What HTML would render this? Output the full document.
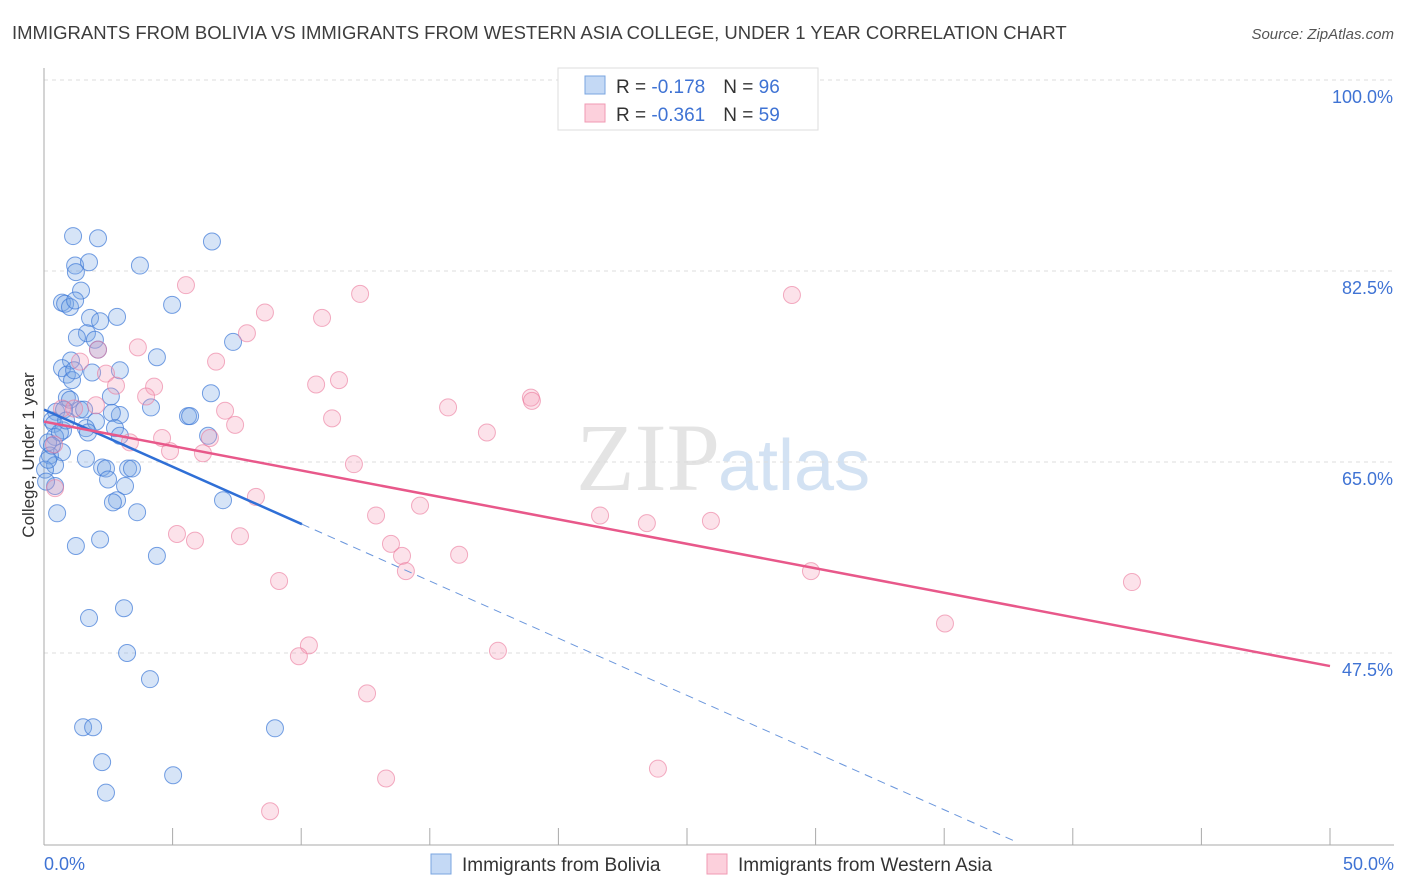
<!DOCTYPE html>
<html><head><meta charset="utf-8">
<style>
body{margin:0;background:#fff;font-family:"Liberation Sans",sans-serif;}
#wrap{position:relative;width:1406px;height:892px;overflow:hidden;}
</style></head>
<body>
<div id="wrap">
<svg id="svg" width="1406" height="892" xmlns="http://www.w3.org/2000/svg">
<text x="12" y="39" font-size="18.5" fill="#3d3d3d">IMMIGRANTS FROM BOLIVIA VS IMMIGRANTS FROM WESTERN ASIA COLLEGE, UNDER 1 YEAR CORRELATION CHART</text>
<text x="1394" y="39" font-size="15" font-style="italic" fill="#555" text-anchor="end">Source: ZipAtlas.com</text>
<text x="720" y="490" font-size="96" fill="#e4e4e4" text-anchor="end" font-family="Liberation Serif,serif">ZIP</text>
<text x="718" y="490" font-size="72" fill="#d3e2f3">atlas</text>
<text transform="translate(34,455) rotate(-90)" font-size="17" fill="#333" text-anchor="middle">College, Under 1 year</text>
<g id="grid"></g><g id="pts"></g><g id="lines"></g>
<g>
<rect x="558" y="68" width="260" height="62" fill="#fff" stroke="#ddd"/>
<rect x="585" y="76" width="20" height="18" fill="#c4d9f5" stroke="#7aa5e0"/>
<rect x="585" y="104" width="20" height="18" fill="#fcd0dc" stroke="#f09ab3"/>
<text x="616" y="93" font-size="19" fill="#333">R = <tspan fill="#3f73d4">-0.178</tspan><tspan dx="18">N = </tspan><tspan fill="#3f73d4">96</tspan></text>
<text x="616" y="121" font-size="19" fill="#333">R = <tspan fill="#3f73d4">-0.361</tspan><tspan dx="18">N = </tspan><tspan fill="#3f73d4">59</tspan></text>
</g>
<g>
<rect x="431" y="854" width="20" height="20" fill="#c4d9f5" stroke="#7aa5e0"/>
<text x="462" y="871" font-size="19" fill="#333">Immigrants from Bolivia</text>
<rect x="707" y="854" width="20" height="20" fill="#fcd0dc" stroke="#f09ab3"/>
<text x="738" y="871" font-size="19" fill="#333">Immigrants from Western Asia</text>
</g>
</svg>
</div>
<script>
const yTicks=[100,82.5,65,47.5];
const yTickLabels=["100.0%","82.5%","65.0%","47.5%"];
const xTickLabels=["0.0%","50.0%"];
const blueX=[1.13,2.10,6.53,1.21,1.75,3.73,1.24,1.44,0.70,0.82,1.01,1.21,4.98,2.84,1.79,2.18,1.67,1.28,1.98,2.10,7.35,4.39,1.05,0.70,2.95,1.87,0.89,1.09,6.49,2.60,0.89,1.01,4.16,0.47,1.40,1.56,0.78,2.95,2.64,5.60,5.68,0.31,2.02,2.76,0.39,0.74,1.63,1.71,2.95,6.38,0.43,0.16,0.70,0.23,1.63,2.26,2.41,0.43,3.27,3.42,2.49,0.43,3.15,2.84,2.68,6.96,3.62,0.51,1.24,2.18,4.39,3.11,1.75,3.23,4.12,1.52,1.91,8.98,2.26,5.02,2.41,0.04,0.08,0.16,0.62,0.31,0.86,1.17];
const blueY=[85.7,85.5,85.2,83.0,83.3,83.0,82.4,80.7,79.6,79.5,79.2,79.8,79.4,78.3,78.2,77.9,76.8,76.4,76.2,75.3,76.0,74.6,74.3,73.6,73.4,73.2,73.0,72.5,71.3,71.0,70.9,70.7,70.0,69.6,69.8,69.8,69.8,69.3,69.5,69.2,69.2,68.8,68.7,68.1,68.5,67.9,68.1,67.7,67.4,67.4,67.3,66.8,65.9,65.6,65.3,64.5,64.4,64.7,64.4,64.4,63.4,62.8,62.8,61.5,61.3,61.5,60.4,60.3,57.3,57.9,56.4,51.6,50.7,47.5,45.1,40.7,40.7,40.6,37.5,36.3,34.7,64.3,63.2,65.2,67.7,66.5,68.8,73.4];
const pinkX=[5.52,12.29,29.08,8.59,10.81,7.89,2.10,3.65,6.69,1.40,2.41,2.80,4.28,10.58,11.47,3.97,15.71,18.93,18.97,7.04,11.20,0.70,1.17,2.02,7.43,17.22,6.45,4.59,3.34,4.90,6.18,0.39,12.05,8.24,14.62,12.91,21.62,23.44,25.93,5.17,5.87,7.62,13.49,13.92,16.14,14.07,29.82,9.14,42.30,35.03,10.30,9.91,17.65,12.56,23.87,13.30,8.79,0.43];
const pinkY=[81.2,80.4,80.3,78.7,78.2,76.8,75.3,75.5,74.2,74.2,73.1,72.0,71.9,72.1,72.5,71.0,70.0,70.9,70.6,69.7,69.0,69.9,69.9,70.2,68.4,67.7,67.2,67.2,66.8,66.0,65.8,66.6,64.8,61.8,61.0,60.1,60.1,59.4,59.6,58.4,57.8,58.2,57.5,56.4,56.5,55.0,55.0,54.1,54.0,50.2,48.2,47.2,47.7,43.8,36.9,36.0,33.0,62.6];
const blueTrend=[[0,69.8],[10.03,59.3]];
const blueTrendDash=[[10.03,59.3],[37.8,30.2]];
const pinkTrend=[[0,68.7],[50,46.3]];

const NS="http://www.w3.org/2000/svg";
const X=v=>44+v*25.72;
const Y=v=>80+(100-v)*10.914;
function mk(tag,attrs,parent){const e=document.createElementNS(NS,tag);for(const k in attrs)e.setAttribute(k,attrs[k]);parent.appendChild(e);return e;}
const grid=document.getElementById('grid');
yTicks.forEach((t,i)=>{
 const l=mk('line',{x1:44,x2:1394,y1:Y(t),y2:Y(t),stroke:'#ddd','stroke-dasharray':'4,4'},grid);
 
 
 const tx=mk('text',{x:1393,y:Y(t)+23,'font-size':18,fill:'#3f73d4','text-anchor':'end'},grid);
 tx.textContent=yTickLabels[i];
 
 
});
const ax=mk('line',{x1:44,x2:44,y1:68,y2:845,stroke:'#aaa'},grid);


const bx=mk('line',{x1:44,x2:1394,y1:845,y2:845,stroke:'#aaa'},grid);


for(let v=5;v<=50;v+=5){
 const t=mk('line',{x1:X(v),x2:X(v),y1:828,y2:845,stroke:'#aaa'},grid);
 
 
}
[[0,'start',44],[50,'end',1394]].forEach((a,i)=>{
 const tx=mk('text',{x:a[2],y:870,'font-size':18,fill:'#3f73d4','text-anchor':a[1]},grid);
 tx.textContent=xTickLabels[i];
 
 
});
const pts=document.getElementById('pts');
blueX.forEach((x,i)=>{
 const c=mk('circle',{cx:X(x),cy:Y(blueY[i]),r:8.5,fill:'rgba(120,165,230,0.3)',stroke:'rgba(60,120,215,0.7)','stroke-width':1},pts);
 
 
});
pinkX.forEach((x,i)=>{
 const c=mk('circle',{cx:X(x),cy:Y(pinkY[i]),r:8.5,fill:'rgba(245,160,185,0.3)',stroke:'rgba(235,120,155,0.6)','stroke-width':1},pts);
 
 
});
const lines=document.getElementById('lines');
const l1=mk('line',{x1:X(blueTrend[0][0]),y1:Y(blueTrend[0][1]),x2:X(blueTrend[1][0]),y2:Y(blueTrend[1][1]),stroke:'#2f6fd6','stroke-width':2.5},lines);


const l2=mk('line',{x1:X(blueTrendDash[0][0]),y1:Y(blueTrendDash[0][1]),x2:X(blueTrendDash[1][0]),y2:Y(blueTrendDash[1][1]),stroke:'#6a96dc','stroke-width':1,'stroke-dasharray':'8,6'},lines);


const l3=mk('line',{x1:X(pinkTrend[0][0]),y1:Y(pinkTrend[0][1]),x2:X(pinkTrend[1][0]),y2:Y(pinkTrend[1][1]),stroke:'#e8588a','stroke-width':2.5},lines);


</script>
</body></html>
